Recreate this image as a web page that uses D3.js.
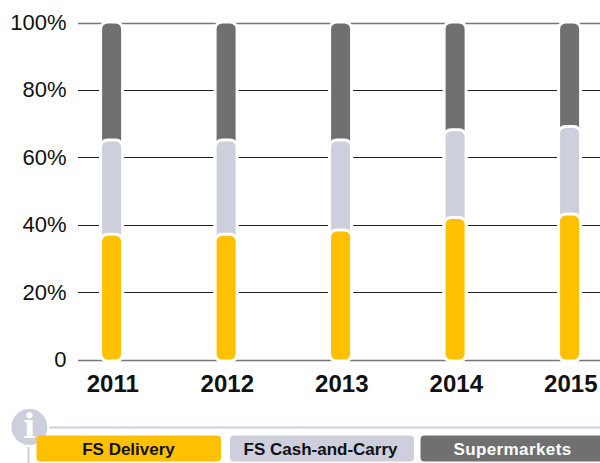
<!DOCTYPE html>
<html><head><meta charset="utf-8">
<script src="https://cdnjs.cloudflare.com/ajax/libs/d3/7.8.5/d3.min.js"></script>
<style>html,body{margin:0;padding:0;background:#fff;overflow:hidden}svg{display:block}text{font-family:"Liberation Sans",Arial,sans-serif}</style>
</head><body><svg id="c" width="600" height="463"></svg>
<script>
const years=["2011","2012","2013","2014","2015"];
const delivery=[37,37,38.3,42,43];
const cashCarry=[28,28,26.7,26,26];
const supermarkets=[35,35,35,32,31];
const seriesNames=["FS Delivery","FS Cash-and-Carry","Supermarkets"];
const seriesColors=["#FFC000","#CDD0DC","#707070"];
const yTicks=[0,20,40,60,80,100];

const svg=d3.select("#c");
const y=d3.scaleLinear().domain([0,100]).range([359.5,22.5]);
const x=d3.scalePoint().domain(years).range([111.6,569.6]);

// grid
const tickG=svg.append("g").selectAll("g").data(yTicks).join("g");
tickG.append("line").attr("x1",78).attr("x2",600)
  .attr("y1",d=>Math.round(y(d))+.5).attr("y2",d=>Math.round(y(d))+.5)
  .attr("stroke",d=>(d===0||d===100)?"#777":"#222").attr("stroke-width",d=>(d===0||d===100)?1.4:1);
tickG.append("text").attr("x",66.5).attr("y",d=>y(d)+7.5).attr("text-anchor","end")
  .attr("font-size",22).attr("fill","#111").text(d=>d===0?"0":d+"%");

// stacked bars (top series drawn first, each lower series overlaps with rounded top)
const stacked=[delivery,cashCarry,supermarkets];
const sw=3,w=19+sw,r=7;
function roundBar(cx,top,bottom){
  const l=cx-w/2,rr=cx+w/2;
  return `M${l},${bottom-r}V${top+r}A${r},${r} 0 0 1 ${l+r},${top}H${rr-r}A${r},${r} 0 0 1 ${rr},${top+r}V${bottom-r}A${r},${r} 0 0 1 ${rr-r},${bottom}H${l+r}A${r},${r} 0 0 1 ${l},${bottom-r}Z`;
}
[2,1,0].forEach(s=>{
  svg.append("g").selectAll("path").data(years).join("path")
    .attr("d",(yr,i)=>{
      let cum=0;for(let k=0;k<=s;k++)cum+=stacked[k][i];
      return roundBar(x(yr),y(cum)-0.5,y(0)+sw/2);
    })
    .attr("fill",seriesColors[s]).attr("stroke","#fff").attr("stroke-width",sw);
});

// year labels
svg.append("g").selectAll("text").data(years).join("text")
  .attr("x",d=>x(d)+1.2).attr("y",392).attr("text-anchor","middle")
  .attr("font-size",24).attr("font-weight",700).attr("fill","#111").text(d=>d);

// legend frame
svg.append("line").attr("x1",29).attr("x2",600).attr("y1",427.5).attr("y2",427.5).attr("stroke","#CDD0DC").attr("stroke-width",2);
svg.append("line").attr("x1",28.5).attr("x2",28.5).attr("y1",430).attr("y2",463).attr("stroke","#CDD0DC").attr("stroke-width",2);
svg.append("circle").attr("cx",29.4).attr("cy",427).attr("r",19).attr("fill","#CDD0DC").attr("stroke","#fff").attr("stroke-width",2);
svg.append("text").attr("x",29.4).attr("y",438).attr("text-anchor","middle").attr("font-size",33).attr("font-weight",700)
  .attr("style",'font-family:"DejaVu Serif",serif').attr("fill","#fff").text("i");

// legend chips
const chipX=d3.scaleOrdinal().domain(seriesNames).range([36.5,230,420.5]);
const chipW=d3.scaleOrdinal().domain(seriesNames).range([184.5,184,185]);
const labelX=d3.scaleOrdinal().domain(seriesNames).range([128.5,320.5,512.5]);
const chip=svg.append("g").selectAll("g").data(seriesNames).join("g");
chip.append("rect").attr("x",d=>chipX(d)).attr("y",435.5).attr("width",d=>chipW(d)).attr("height",26).attr("rx",4)
  .attr("fill",(d,i)=>seriesColors[i]);
chip.append("text").attr("x",d=>labelX(d)).attr("y",454.5)
  .attr("text-anchor","middle").attr("font-size",17).attr("font-weight",700)
  .attr("letter-spacing",d=>d==="Supermarkets"?0.4:0)
  .attr("fill",(d,i)=>i===2?"#fff":"#111").text(d=>d);
</script></body></html>
